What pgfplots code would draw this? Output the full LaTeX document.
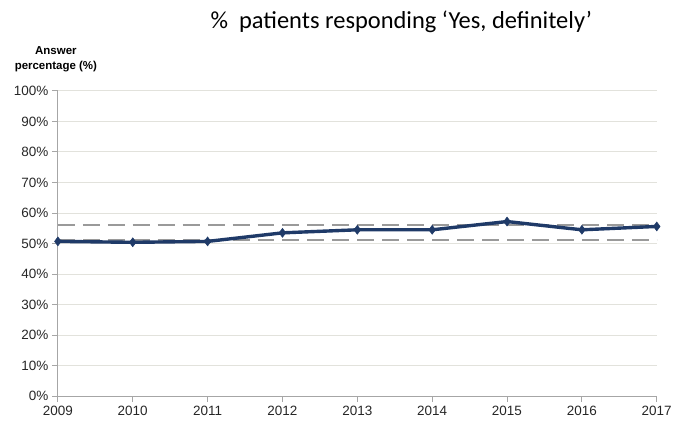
\documentclass[border=0pt]{standalone}
\usepackage{pgfplots}
\pgfplotsset{compat=1.18}
\usepackage{fontspec}
\setmainfont{Liberation Sans}
\newfontfamily\titlefont{Carlito}
\definecolor{navy}{HTML}{1F3A68}
\definecolor{gridgray}{HTML}{E2E2DC}
\definecolor{axisgray}{HTML}{A6A6A6}
\definecolor{dashgray}{HTML}{9A9A9A}
\begin{document}
\begin{tikzpicture}
\begin{axis}[
  scale only axis,
  width=600pt, height=306pt,
  xmin=2009, xmax=2017,
  ymin=0, ymax=100,
  xtick={2009,...,2017},
  xticklabel style={/pgf/number format/1000 sep={}},
  ytick={0,10,...,100},
  yticklabel={\pgfmathprintnumber{\tick}\%},
  /pgf/number format/assume math mode=true,
  tick label style={font=\fontsize{13.5}{15}\selectfont, text=black!85},
  ymajorgrids,
  grid style={gridgray, line width=1pt},
  axis x line*=bottom,
  axis y line*=left,
  axis line style={axisgray, line width=0.9pt},
  tick style={axisgray, line width=0.9pt},
  tick align=outside,
  major tick length=6pt,
  clip=false,
]
% reference band
\addplot[dashgray, line width=2.2pt, dash pattern=on 17pt off 8pt] coordinates {(2009,56.1) (2017,56.1)};
\addplot[dashgray, line width=2.2pt, dash pattern=on 17pt off 8pt] coordinates {(2009,51.1) (2017,51.1)};
% yearly results
\addplot[navy, line width=3.4pt, mark=diamond*, mark size=4.5pt, mark options={solid, fill=navy, line width=0.5pt}] coordinates {
  (2009,50.7) (2010,50.4) (2011,50.7) (2012,53.5) (2013,54.5)
  (2014,54.5) (2015,57.2) (2016,54.5) (2017,55.6)
};
\end{axis}
\node[font=\titlefont\fontsize{24.5}{28}\selectfont] at (344pt,375pt) {\%\ \ patients responding ‘Yes, definitely’};
\node[font=\bfseries\fontsize{11.5}{15}\selectfont, align=center] at (-2pt,338pt) {Answer\\percentage (\%)};
\useasboundingbox (-58pt,-27pt) rectangle (617pt,397pt);
\end{tikzpicture}
\end{document}
